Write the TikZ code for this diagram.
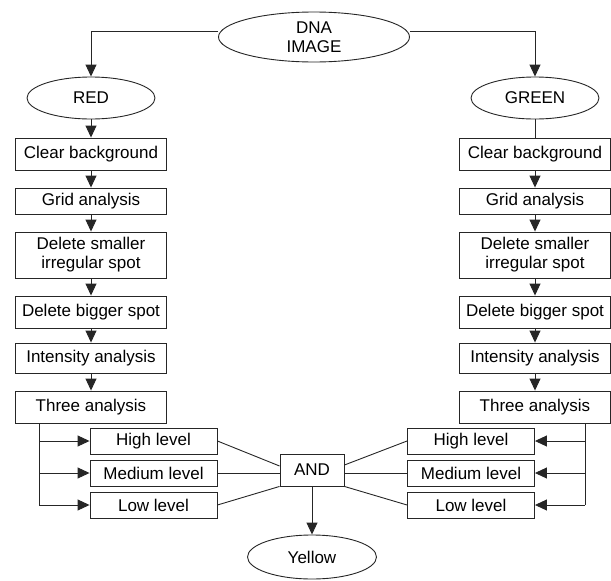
\documentclass[tikz,border=0pt]{standalone}
\usepackage{fontspec}
\setmainfont{Liberation Sans}
\usetikzlibrary{shapes.geometric,arrows.meta,calc}
\begin{document}
\begin{tikzpicture}[x=1pt,y=-1pt,
  every node/.style={font=\fontsize{17}{19}\selectfont, inner sep=0pt},
  line/.style={draw=black!85, line width=0.9pt},
  arr/.style={line, -{Triangle[length=12pt,width=11pt]}},
  oval/.style={ellipse, line, fill=white},
  box/.style={rectangle, line, fill=white, align=center},
  colbox/.style={box, minimum width=151pt},
  lvlbox/.style={box, minimum width=127pt, minimum height=26pt}]
\useasboundingbox (0,0) rectangle (611,581);
% top
\node[oval, minimum width=191pt, minimum height=50pt, align=center] (dna) at (314,37) {DNA\\IMAGE};
\node[oval, minimum width=128pt, minimum height=42pt] (red) at (91,98) {RED};
\node[oval, minimum width=128pt, minimum height=42pt] (green) at (535,98) {GREEN};
% left column
\node[colbox, minimum height=32pt] (lcb) at (91,154) {Clear background};
\node[colbox, minimum height=26pt] (lga) at (91,201) {Grid analysis};
\node[colbox, minimum height=46pt] (lds) at (91,255) {Delete smaller\\irregular spot};
\node[colbox, minimum height=32pt] (ldb) at (91,312) {Delete bigger spot};
\node[colbox, minimum height=30pt] (lia) at (91,358) {Intensity analysis};
\node[colbox, minimum height=32pt] (lta) at (91,407) {Three analysis};
% right column
\node[colbox, minimum height=32pt] (rcb) at (535,154) {Clear background};
\node[colbox, minimum height=26pt] (rga) at (535,201) {Grid analysis};
\node[colbox, minimum height=46pt] (rds) at (535,255) {Delete smaller\\irregular spot};
\node[colbox, minimum height=32pt] (rdb) at (535,312) {Delete bigger spot};
\node[colbox, minimum height=30pt] (ria) at (535,358) {Intensity analysis};
\node[colbox, minimum height=32pt] (rta) at (535,407) {Three analysis};
% levels
\node[lvlbox] (lh) at (153.5,441) {High level};
\node[lvlbox] (lm) at (153.5,473) {Medium level};
\node[lvlbox] (ll) at (153.5,505) {Low level};
\node[lvlbox] (rh) at (471,441) {High level};
\node[lvlbox] (rm) at (471,473) {Medium level};
\node[lvlbox] (rl) at (471,505) {Low level};
\node[box, minimum width=64pt, minimum height=32pt] (and) at (312,470) {AND};
\node[oval, minimum width=129pt, minimum height=44pt] (yel) at (312,557) {Yellow};
% coordinates
\coordinate (dl) at (dna.west |- 0,31);
\coordinate (dr) at (dna.east |- 0,31);
\coordinate (lb) at (39,423);
\coordinate (rb) at (585,423);
% connectors top
\draw[arr] (dl) -| (red.north);
\draw[arr] (dr) -| (green.north);
\draw[arr] (red) -- (lcb);
\draw[line] (green) -- (rcb);
\draw[arr] (lcb) -- (lga);
\draw[arr] (lga) -- (lds);
\draw[arr] (lds) -- (ldb);
\draw[arr] (ldb) -- (lia);
\draw[arr] (lia) -- (lta);
\draw[arr] (rcb) -- (rga);
\draw[arr] (rga) -- (rds);
\draw[arr] (rds) -- (rdb);
\draw[arr] (rdb) -- (ria);
\draw[arr] (ria) -- (rta);
% branches
\draw[line] (lb) -- (lb |- ll.west);
\draw[arr] (lb |- lh.west) -- (lh.west);
\draw[arr] (lb |- lm.west) -- (lm.west);
\draw[arr] (lb |- ll.west) -- (ll.west);
\draw[line] (rb) -- (rb |- rl.east);
\draw[arr] (rb |- rh.east) -- (rh.east);
\draw[arr] (rb |- rm.east) -- (rm.east);
\draw[arr] (rb |- rl.east) -- (rl.east);
% to AND
\draw[line] (lh.east) -- ($(and.west)+(0,-4)$);
\draw[line] (lm.east) -- (lm.east -| and.west);
\draw[line] (ll.east) -- (and.south west);
\draw[line] (rh.west) -- ($(and.east)+(0,-5)$);
\draw[line] (rm.west) -- (rm.west -| and.east);
\draw[line] (rl.west) -- (and.south east);
\draw[arr] (and) -- (yel);
\end{tikzpicture}
\end{document}
